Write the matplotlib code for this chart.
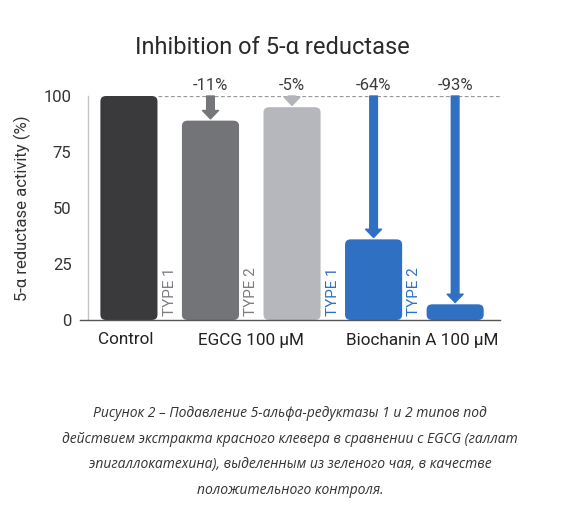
import matplotlib.pyplot as plt
from matplotlib.patches import FancyBboxPatch

plt.rcParams['font.family'] = ['Roboto', 'DejaVu Sans']

# data
bar_labels = ["Control", "EGCG T1", "EGCG T2", "Biochanin T1", "Biochanin T2"]
activity = [100, 89, 95, 36, 7]
change_labels = [None, "-11%", "-5%", "-64%", "-93%"]
type_labels = [None, "TYPE 1", "TYPE 2", "TYPE 1", "TYPE 2"]
group_labels = ["Control", "EGCG 100 µM", "Biochanin A 100 µM"]
group_pos = [-0.04, 1.5, 3.6]
yticks = [0, 25, 50, 75, 100]

bar_colors = ['#3a3a3d', '#737478', '#b6b7bc', '#2f70c3', '#2f70c3']
arrow_colors = [None, '#75767a', '#b2b4ba', '#2f70c3', '#2f70c3']
type_colors = [None, '#7c7d81', '#7c7d81', '#2f70c3', '#2f70c3']

caption = ("Рисунок 2 – Подавление 5-альфа-редуктазы 1 и 2 типов под\n"
           "действием экстракта красного клевера в сравнении с EGCG (галлат\n"
           "эпигаллокатехина), выделенным из зеленого чая, в качестве\n"
           "положительного контроля.")

fig = plt.figure(figsize=(5.8, 5.08), dpi=100)
ax = fig.add_axes([80 / 580, 1 - 320 / 508, 420 / 580, 224 / 508])

x = list(range(len(activity)))
bars = ax.bar(x, activity, width=0.70, color=bar_colors)

# swap plain rectangles for rounded ones
for b, c in zip(bars, bar_colors):
    b.set_visible(False)
    rb = FancyBboxPatch((b.get_x(), b.get_y()), b.get_width(), b.get_height(),
                        boxstyle="round,pad=0,rounding_size=0.07",
                        mutation_aspect=34, facecolor=c, edgecolor='none',
                        clip_on=False)
    ax.add_patch(rb)

# reference line at 100
ax.hlines(100, 0.36, 4.55, colors='#9a9a9a', linestyles=(0, (3, 2)), linewidth=0.9)

# arrows and percentage labels
for i in x:
    if change_labels[i] is None:
        continue
    ax.annotate("", xy=(i, activity[i] + 0.8), xytext=(i, 100),
                arrowprops=dict(arrowstyle="simple,head_width=1.15,head_length=0.6,tail_width=0.55",
                                mutation_scale=10, color=arrow_colors[i],
                                shrinkA=0, shrinkB=0),
                annotation_clip=False)
    ax.text(i, 101.2, change_labels[i], ha='center', va='bottom',
            fontsize=12, color='#3c3c3c')
    ax.text(i - 0.5, 2.0, type_labels[i], rotation=90, ha='center', va='bottom',
            fontsize=11, color=type_colors[i])

ax.set_xlim(-0.6, 4.55)
ax.set_ylim(0, 100)
ax.set_yticks(yticks)
ax.set_xticks(group_pos)
ax.set_xticklabels(group_labels, fontsize=12.3, color='#222222')
ax.tick_params(axis='y', length=0, pad=12, labelsize=12, labelcolor='#333333')
ax.tick_params(axis='x', length=0, pad=9)
ax.set_ylabel("5-α reductase activity (%)", fontsize=12, color='#333333', labelpad=9)

for s in ['top', 'right']:
    ax.spines[s].set_visible(False)
ax.spines['left'].set_position(('data', -0.5))
ax.spines['left'].set_color('#c4c4c4')
ax.spines['left'].set_linewidth(1.0)
ax.spines['bottom'].set_color('#555555')
ax.spines['bottom'].set_linewidth(1.0)

fig.text(272 / 580, 1 - 47 / 508, "Inhibition of 5-α reductase", ha='center', va='center',
         fontsize=17, color='#2a2a2a')

fig.text(290 / 580, 1 - 452 / 508, caption, ha='center', va='center', fontsize=10,
         style='italic', color='#333333', linespacing=1.95,
         family=['Open Sans', 'DejaVu Sans'])

fig.savefig('out.png', dpi=100, facecolor='white')
